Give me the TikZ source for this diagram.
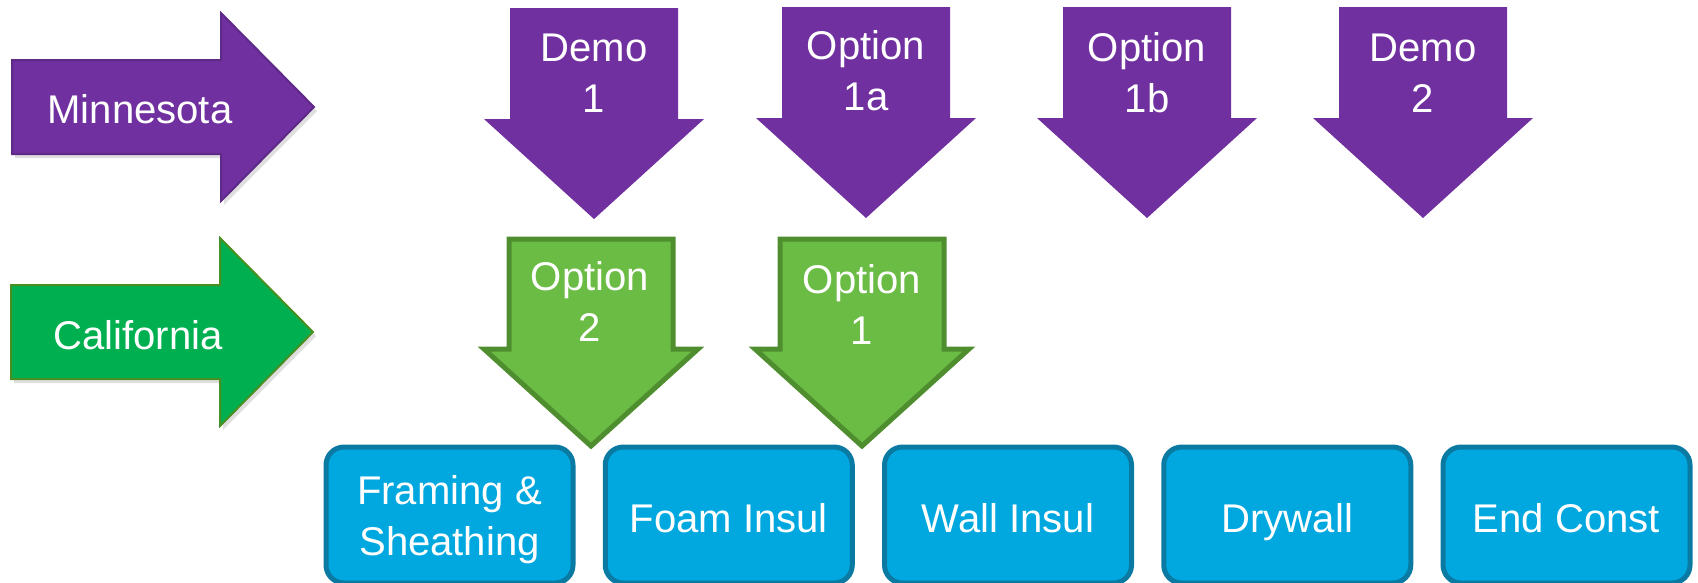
\documentclass[tikz,border=0pt]{standalone}
\usepackage{fontspec}
\setmainfont{Liberation Sans}
\usetikzlibrary{calc,shadows}
\definecolor{mnpurple}{HTML}{7030A0}
\definecolor{cagreen}{HTML}{00B050}
\definecolor{cagreenline}{HTML}{4A8F22}
\definecolor{optgreen}{HTML}{6BBC45}
\definecolor{optgreenline}{HTML}{4F8E2E}
\definecolor{stepfill}{HTML}{00A8DF}
\definecolor{stepline}{HTML}{0A7AA3}
\def\rightblock[#1](#2){\draw[#1] (#2) -- ++(-0.93,0.94) -- ++(0,-0.47) -- ++(-2.09,0) -- ++(0,-0.94) -- ++(2.09,0) -- ++(0,-0.47) -- cycle;}
\def\downblock[#1](#2)(#3:#4:#5:#6){\draw[#1] (#2) -- ++(-#3,#4) -- ++({#3-#5},0) -- ++(0,#6) -- ++({2*#5},0) -- ++(0,-#6) -- ++({#3-#5},0) -- cycle;}

\begin{document}
\begin{tikzpicture}[font=\fontsize{11.4}{14.5}\selectfont,
		every node/.style={text=white, align=center},
		stepbox/.style={draw=stepline, fill=stepfill, line width=0.05cm, rounded corners=0.18cm, minimum width=2.47cm, minimum height=1.36cm, inner sep=0pt, text depth=0cm},
		oneline/.style={text height=0.34cm}]
		%%%%% START %%%%%
		
		\useasboundingbox (0, 0) rectangle (16.98, -5.82);
		
		\rightblock[fill=mnpurple, draw=mnpurple!85!black, line width=0.2mm, drop shadow={shadow xshift=0.03cm, shadow yshift=-0.04cm, opacity=0.25}](3.14, -1.07)
		\node (mn) at (1.40, -1.09) {Minnesota};
		
		\rightblock[fill=cagreen, draw=cagreenline, line width=0.2mm, drop shadow={shadow xshift=0.03cm, shadow yshift=-0.04cm, opacity=0.25}](3.13, -3.32)
		\node (ca) at (1.38, -3.35) {California};
		
		\downblock[fill=mnpurple, draw=none](5.94, -2.19)(1.10:1.00:0.84:1.11)
		\node (demoA) at (5.94, -0.73) {Demo\\1};
		\downblock[fill=mnpurple, draw=none](8.66, -2.18)(1.10:1.00:0.84:1.11)
		\node (optA) at (8.66, -0.71) {Option\\1a};
		\downblock[fill=mnpurple, draw=none](11.47, -2.18)(1.10:1.00:0.84:1.11)
		\node (optB) at (11.47, -0.725) {Option\\1b};
		\downblock[fill=mnpurple, draw=none](14.23, -2.18)(1.10:1.00:0.84:1.11)
		\node (demoB) at (14.23, -0.73) {Demo\\2};
		
		\downblock[fill=optgreen, draw=optgreenline, line width=0.05cm](5.91, -4.46)(1.07:0.97:0.82:1.10)
		\node (caopt2) at (5.90, -3.01) {Option\\2};
		\downblock[fill=optgreen, draw=optgreenline, line width=0.05cm](8.62, -4.46)(1.07:0.97:0.82:1.10)
		\node (caopt1) at (8.62, -3.04) {Option\\1};
		
		\node[stepbox] (frame) at (4.495, -5.15) {Framing \&\\Sheathing};
		\node[stepbox, oneline] (foam) at (7.2875, -5.15) {Foam Insul};
		\node[stepbox, oneline] (wall) at (10.08, -5.15) {Wall Insul};
		\node[stepbox, oneline] (dry) at (12.8725, -5.15) {Drywall};
		\node[stepbox, oneline] (endc) at (15.665, -5.15) {End Const};
		
		%%%%% END %%%%%
	\end{tikzpicture}
\end{document}
